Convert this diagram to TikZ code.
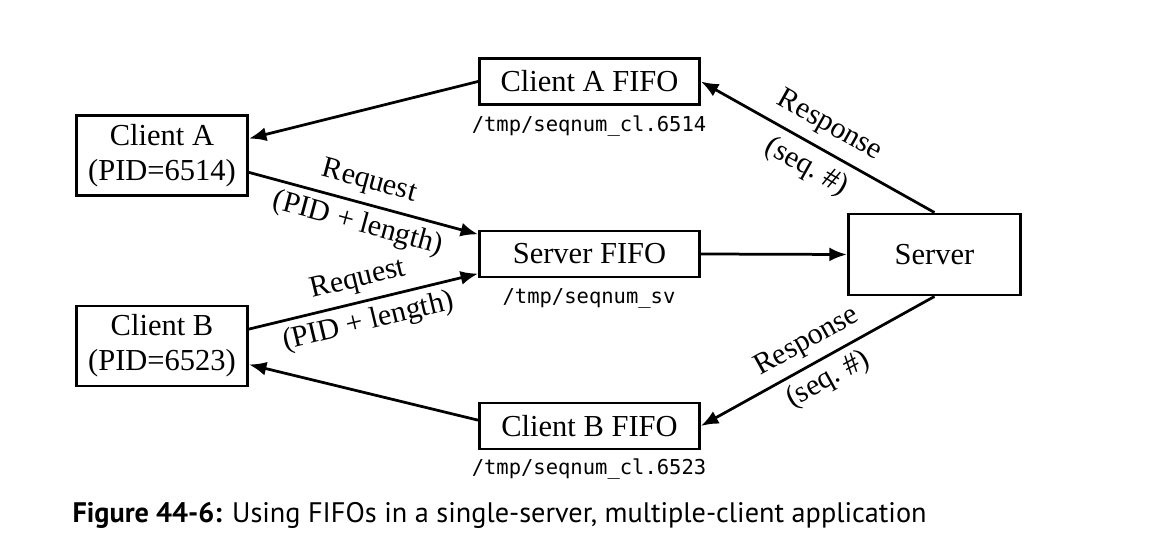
\documentclass[tikz,border=0pt]{standalone}
\usepackage{fontspec}
\setmainfont{Liberation Serif}
\setmonofont{DejaVu Sans Mono}
\newfontfamily\capfont{PT Sans}
\usetikzlibrary{arrows.meta, positioning}
\tikzset{
    box/.style={draw, line width=1.15pt, inner sep=0pt, font=\fontsize{12.2}{14}\selectfont, align=center},
    clientbox/.style={box, minimum width=68.4pt, minimum height=32pt},
    fifobox/.style={box, minimum width=88pt, minimum height=18.4pt},
    pathname/.style={font=\fontsize{8.2}{10}\ttfamily, inner sep=0pt},
    flow/.style={line width=1.1pt, -{Latex[length=7pt, width=5.6pt]}},
    flowlabel/.style={midway, sloped, align=center, inner sep=0pt, font=\fontsize{12}{14}\selectfont}
}
\begin{document}
\begin{tikzpicture}[x=0.4pt, y=-0.4pt]
    \useasboundingbox (0,0) rectangle (1159,544);
    % boxes
    \node[clientbox] (clientA) at (162,155.5) {Client A\\(PID=6514)};
    \node[clientbox] (clientB) at (162,346) {Client B\\(PID=6523)};
    \node[fifobox] (fifoA) at (589.5,81.5) {Client A FIFO};
    \node[fifobox] (fifoS) at (589.5,254) {Server FIFO};
    \node[fifobox] (fifoB) at (589.5,426) {Client B FIFO};
    \node[clientbox, minimum width=69pt, minimum height=32.4pt] (server) at (934.5,254.5) {Server};
    % pathnames
    \node[pathname] (pathA) at (589,126) {/tmp/seqnum\_cl.6514};
    \node[pathname] (pathS) at (589,298) {/tmp/seqnum\_sv};
    \node[pathname] (pathB) at (589,469) {/tmp/seqnum\_cl.6523};
    % connectors
    \draw[flow] (fifoA.west) -- (clientA.11);
    \draw[flow] (clientA.-11) -- (fifoS.170)
        node[flowlabel] {Request\\[3.5pt](PID + length)};
    \draw[flow] (clientB.11) -- (fifoS.190)
        node[flowlabel] {Request\\[3.5pt](PID + length)};
    \draw[flow] (fifoB.177) -- (clientB.-12);
    \draw[flow] (fifoS.east) -- (server.west);
    \draw[flow] (server.north) -- (fifoA.east)
        node[flowlabel] {Response\\[5pt](seq.~\#)};
    \draw[flow] (server.south) -- (fifoB.east)
        node[flowlabel] {Response\\[3.5pt](seq.~\#)};
    % caption
    \node[anchor=base west, inner sep=0pt, font=\fontsize{11.3}{13}\capfont] (caption) at (72,523)
        {\textbf{Figure 44-6:} Using FIFOs in a single-server, multiple-client application};
\end{tikzpicture}
\end{document}
